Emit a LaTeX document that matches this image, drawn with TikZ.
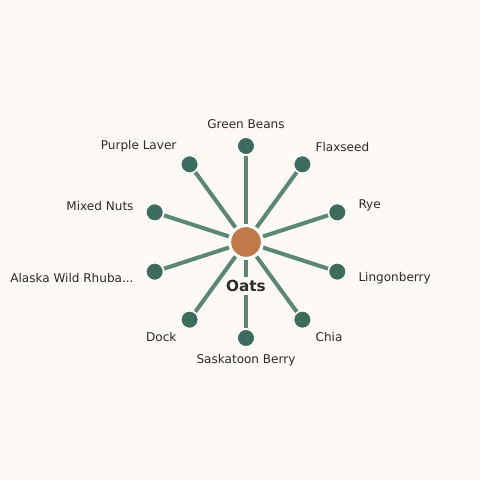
\documentclass[tikz,border=0pt]{standalone}
\usepackage{fontspec}
\setmainfont{DejaVu Sans}
\definecolor{paper}{RGB}{253,249,245}
\definecolor{leafgreen}{RGB}{61,107,94}
\definecolor{spokegreen}{RGB}{91,135,119}
\definecolor{hubbrown}{RGB}{192,122,74}
\definecolor{inkgray}{RGB}{43,43,43}
\begin{document}
\begin{tikzpicture}[x=0.01in,y=0.01in,
	hub node/.style = {circle,fill=hubbrown,draw=white,line width=1.5pt, inner sep = 0pt, minimum size = 23pt, outer sep = 1.5pt},
	leaf node/.style = {circle,fill=leafgreen,draw=white,line width=0.8pt, inner sep = 0pt, minimum size = 12.5pt, outer sep = 0.8pt},
	spoke/.style = {draw=spokegreen,line width=2.9pt},
	leaf label/.style = {text=inkgray,font=\fontsize{8.7}{10}\selectfont,inner sep=0pt}]
	
	\fill[paper] (-246,-238) rectangle (234,242);
	\useasboundingbox (-246,-238) rectangle (234,242);
	
	\node[hub node] (0) at (0,0) {};
	\node[leaf node] (1) at (90:96) {};
	\node[leaf node] (2) at (54:96) {};
	\node[leaf node] (3) at (18:96) {};
	\node[leaf node] (4) at (-18:96) {};
	\node[leaf node] (5) at (-54:96) {};
	\node[leaf node] (6) at (-90:96) {};
	\node[leaf node] (7) at (-126:96) {};
	\node[leaf node] (8) at (-162:96) {};
	\node[leaf node] (9) at (162:96) {};
	\node[leaf node] (10) at (126:96) {};
	
	\node[leaf label] (l1) at (90:118) {Green Beans};
	\node[leaf label,anchor=west] (l2) at (54:118) {Flaxseed};
	\node[leaf label,anchor=west] (l3) at (18:118) {Rye};
	\node[leaf label,anchor=west] (l4) at (-18:118) {Lingonberry};
	\node[leaf label,anchor=west] (l5) at (-54:118) {Chia};
	\node[leaf label] (l6) at (-90:118) {Saskatoon Berry};
	\node[leaf label,anchor=east] (l7) at (-126:118) {Dock};
	\node[leaf label,anchor=east] (l8) at (-162:118) {Alaska Wild Rhuba...};
	\node[leaf label,anchor=east] (l9) at (162:118) {Mixed Nuts};
	\node[leaf label,anchor=east] (l10) at (126:118) {Purple Laver};
	
	\path[spoke] (0) -- (1);
	\path[spoke] (0) -- (2);
	\path[spoke] (0) -- (3);
	\path[spoke] (0) -- (4);
	\path[spoke] (0) -- (5);
	\path[spoke] (0) -- (6);
	\path[spoke] (0) -- (7);
	\path[spoke] (0) -- (8);
	\path[spoke] (0) -- (9);
	\path[spoke] (0) -- (10);
	
	\node[fill=paper,text=inkgray,font=\fontsize{11}{13}\selectfont\bfseries,inner sep=2pt] (hub) at (0,-44) {Oats};
	
\end{tikzpicture}
\end{document}
